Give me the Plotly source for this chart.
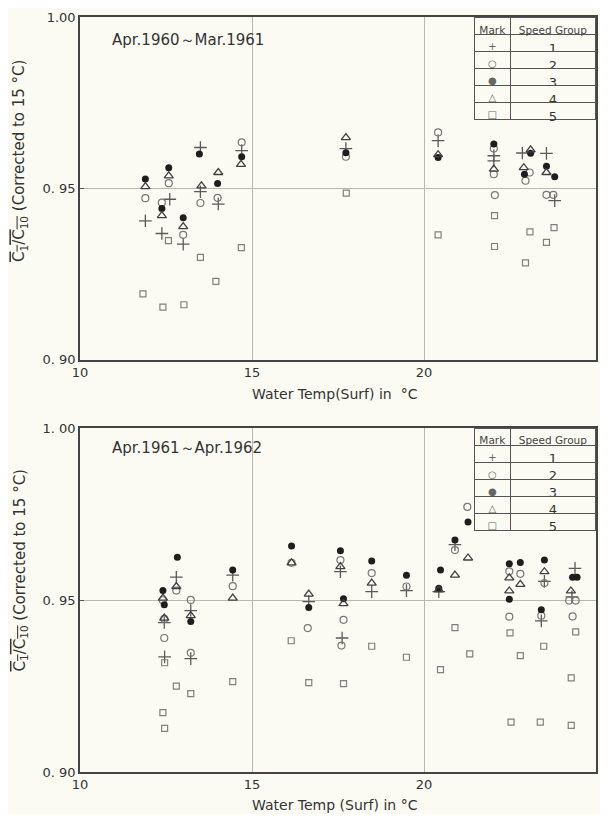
import plotly.graph_objects as go

# ---------------- data ----------------
groups = ["1", "2", "3", "4", "5"]
marks = ["+", "○", "●", "△", "□"]

# Panel A: Apr.1960 ~ Mar.1961
a1_x = [11.9, 12.61, 12.38, 13.0, 13.5, 13.5, 14.02, 14.70, 17.73, 20.41, 22.03, 22.03, 22.86, 23.56, 23.8]
a1_y = [0.9405, 0.9468, 0.9368, 0.9337, 0.9490, 0.9619, 0.9454, 0.9610, 0.9616, 0.9639, 0.9595, 0.9580, 0.9603, 0.9602, 0.9464]
a2_x = [11.9, 12.58, 12.38, 13.0, 13.5, 14.0, 14.70, 17.73, 20.41, 22.03, 22.03, 22.06, 23.07, 22.95, 23.56, 23.76]
a2_y = [0.9471, 0.9515, 0.9458, 0.9364, 0.9457, 0.9472, 0.9634, 0.9592, 0.9663, 0.9616, 0.9541, 0.9480, 0.9546, 0.9522, 0.9481, 0.9481]
a3_x = [11.9, 12.58, 12.38, 13.0, 13.47, 14.0, 14.70, 17.73, 20.41, 22.03, 23.1, 22.92, 23.56, 23.8]
a3_y = [0.9527, 0.9560, 0.9441, 0.9414, 0.9600, 0.9514, 0.9592, 0.9604, 0.9590, 0.9629, 0.9602, 0.9541, 0.9564, 0.9534]
a4_x = [11.9, 12.58, 12.38, 13.0, 13.53, 14.02, 14.68, 17.73, 20.41, 22.03, 23.1, 22.9, 23.56]
a4_y = [0.9505, 0.9536, 0.9420, 0.9388, 0.9507, 0.9546, 0.9570, 0.9648, 0.9598, 0.9556, 0.9612, 0.9560, 0.9546]
a5_x = [11.83, 12.41, 13.02, 12.57, 13.5, 13.95, 14.69, 17.74, 20.41, 22.05, 22.05, 23.08, 22.95, 23.78, 23.56]
a5_y = [0.9192, 0.9153, 0.9160, 0.9347, 0.9298, 0.9228, 0.9327, 0.9486, 0.9364, 0.9420, 0.9330, 0.9373, 0.9282, 0.9385, 0.9342]

# Panel B: Apr.1961 ~ Apr.1962
b1_x = [12.8, 12.45, 12.46, 13.22, 13.22, 14.44, 16.65, 17.57, 17.62, 18.48, 19.49, 20.43, 20.9, 23.5, 23.41, 24.39, 24.3]
b1_y = [0.9567, 0.9435, 0.9335, 0.9470, 0.9330, 0.9573, 0.9496, 0.9583, 0.9390, 0.9525, 0.9528, 0.9525, 0.9662, 0.9555, 0.9440, 0.9593, 0.9510]
b2_x = [12.8, 12.41, 12.45, 12.45, 13.22, 13.22, 14.44, 16.15, 16.62, 17.57, 17.66, 17.6, 18.48, 19.49, 20.9, 21.26, 22.48, 22.8, 22.48, 23.5, 23.41, 24.22, 24.41, 24.32]
b2_y = [0.9528, 0.9500, 0.9446, 0.9390, 0.9501, 0.9347, 0.9541, 0.9609, 0.9419, 0.9617, 0.9443, 0.9368, 0.9579, 0.9540, 0.9646, 0.9772, 0.9584, 0.9577, 0.9452, 0.9550, 0.9455, 0.9499, 0.9499, 0.9453]
b3_x = [12.83, 12.41, 12.45, 13.22, 14.44, 16.15, 16.65, 17.57, 17.66, 18.48, 19.49, 20.48, 20.43, 20.9, 21.28, 22.48, 22.8, 22.48, 23.5, 23.41, 24.32, 24.45]
b3_y = [0.9625, 0.9528, 0.9487, 0.9438, 0.9588, 0.9658, 0.9479, 0.9644, 0.9504, 0.9614, 0.9573, 0.9588, 0.9535, 0.9675, 0.9728, 0.9606, 0.9610, 0.9503, 0.9617, 0.9472, 0.9567, 0.9567]
b4_x = [12.8, 12.41, 12.45, 13.22, 14.44, 16.15, 16.65, 17.57, 17.66, 18.48, 20.9, 20.43, 21.28, 22.48, 22.8, 22.48, 23.5, 24.27]
b4_y = [0.9540, 0.9506, 0.9448, 0.9455, 0.9506, 0.9609, 0.9518, 0.9598, 0.9490, 0.9550, 0.9573, 0.9530, 0.9623, 0.9565, 0.9546, 0.9527, 0.9583, 0.9527]
b5_x = [12.8, 13.22, 12.41, 12.46, 12.46, 14.44, 16.14, 16.65, 17.66, 18.48, 19.49, 20.48, 20.9, 21.33, 22.5, 22.8, 22.53, 23.48, 23.38, 24.41, 24.28, 24.28]
b5_y = [0.9250, 0.9228, 0.9173, 0.9127, 0.9318, 0.9263, 0.9382, 0.9260, 0.9257, 0.9366, 0.9334, 0.9298, 0.9420, 0.9344, 0.9405, 0.9339, 0.9145, 0.9366, 0.9145, 0.9408, 0.9274, 0.9136]

x_ticks = [10, 15, 20, 25]
x_tick_text = ["10", "15", "20", "25"]
y_ticks = [0.90, 0.95, 1.00]
y_tick_text_a = ["0. 90", "0. 95", "1.00"]
y_tick_text_b = ["0. 90", "0. 95", "1. 00"]
titles = ["Apr.1960～Mar.1961", "Apr.1961～Apr.1962"]
x_titles = ["Water Temp(Surf) in  °C", "Water Temp (Surf) in °C"]

# ---------------- styling ----------------
BG = "#fbfbf4"
FONT = "DejaVu Sans"
styles = [
    dict(symbol="cross-thin-open", size=9, color="#5a5a5a", line=dict(width=1.3, color="#5a5a5a")),
    dict(symbol="circle-open", size=7, color="#777777", line=dict(width=1.2, color="#777777")),
    dict(symbol="circle", size=7, color="#1e1e1e", line=dict(width=0)),
    dict(symbol="triangle-up-open", size=8, color="#404040", line=dict(width=1.3, color="#404040")),
    dict(symbol="square-open", size=6, color="#808080", line=dict(width=1.2, color="#808080")),
]

# page body has an 8px margin: figure is 592x806 inside the 608x822 window
OFF = 8
W, H = 592, 806
L, R, T, B = 72, 2, 8, 42
pw, ph = W - L - R, H - T - B


def px_x(p):  # screen px -> paper x
    return (p - OFF - L) / pw


def px_y(p):  # screen px -> paper y
    return (H - B - (p - OFF)) / ph


fig = go.Figure()

panels = [
    ("x", "y", [(a1_x, a1_y), (a2_x, a2_y), (a3_x, a3_y), (a4_x, a4_y), (a5_x, a5_y)]),
    ("x2", "y2", [(b1_x, b1_y), (b2_x, b2_y), (b3_x, b3_y), (b4_x, b4_y), (b5_x, b5_y)]),
]
for xa, ya, series in panels:
    for g, (xs, ys), st in zip(groups, series, styles):
        fig.add_trace(go.Scatter(
            x=xs, y=ys, mode="markers", xaxis=xa, yaxis=ya, name=g, showlegend=False,
            marker=st, cliponaxis=False))

# legend tables ("Mark | Speed Group")
NB = "\u00a0"
for (t0, t1) in [(17, 121), (428, 533)]:
    fig.add_trace(go.Table(
        domain=dict(x=[px_x(476), px_x(598)], y=[px_y(t1), px_y(t0)]),
        columnwidth=[36, 86],
        header=dict(values=["Mark", "Speed" + NB + "Group"], height=17, align="center",
                    fill_color=BG, line=dict(color="#555555", width=1),
                    font=dict(family=FONT, size=10.5, color="#444444")),
        cells=dict(values=[marks, groups], height=17, align="center",
                   fill_color=BG, line=dict(color="#555555", width=1),
                   font=dict(family=FONT, size=[10, 13], color=["#666666", "#333333"])),
    ))

top_dom = [px_y(359), px_y(16)]
bot_dom = [px_y(772), px_y(428)]

axis_common = dict(
    range=[10, 25], tickvals=x_ticks, ticktext=x_tick_text, showgrid=True,
    gridcolor="#b8b8b0", gridwidth=1, zeroline=False, showline=True, linecolor="#444444",
    linewidth=1.5, mirror=True, ticks="", tickfont=dict(family=FONT, size=13, color="#333333"),
)
yaxis_common = dict(
    range=[0.90, 1.00], tickvals=y_ticks, showgrid=True, gridcolor="#b8b8b0", gridwidth=1,
    zeroline=False, showline=True, linecolor="#444444", linewidth=1.5, mirror=True,
    ticks="inside", ticklen=4, tickcolor="#555555",
    tickfont=dict(family=FONT, size=13, color="#333333"),
)

fig.update_layout(
    width=W, height=H,
    margin=dict(l=L, r=R, t=T, b=B),
    paper_bgcolor=BG, plot_bgcolor=BG,
    showlegend=False,
    xaxis=dict(domain=[0, 1], anchor="y", **axis_common),
    yaxis=dict(domain=top_dom, anchor="x", ticktext=y_tick_text_a, **yaxis_common),
    xaxis2=dict(domain=[0, 1], anchor="y2", **axis_common),
    yaxis2=dict(domain=bot_dom, anchor="x2", ticktext=y_tick_text_b, **yaxis_common),
)

ylab = ('<span style="text-decoration:overline">C<sub>1</sub>/C<sub>10</sub></span>'
        + NB + '(Corrected' + NB + 'to' + NB + '15' + NB + '°C)')
annos = [
    dict(text=titles[0], x=px_x(110), y=px_y(39), xanchor="left", yanchor="middle", size=15),
    dict(text=titles[1], x=px_x(110), y=px_y(448), xanchor="left", yanchor="middle", size=15),
    dict(text=x_titles[0], x=px_x(336), y=px_y(393), xanchor="center", yanchor="middle", size=14),
    dict(text=x_titles[1], x=px_x(336), y=px_y(805), xanchor="center", yanchor="middle", size=14),
    dict(text=ylab, x=px_x(20), y=px_y(160), xanchor="center", yanchor="middle", textangle=-90, size=15),
    dict(text=ylab, x=px_x(20), y=px_y(570), xanchor="center", yanchor="middle", textangle=-90, size=15),
]
for a in annos:
    sz = a.pop("size")
    a.update(xref="paper", yref="paper", showarrow=False,
             font=dict(family=FONT, size=sz, color="#333333"))
    fig.add_annotation(**a)

fig.write_html("out.html")
